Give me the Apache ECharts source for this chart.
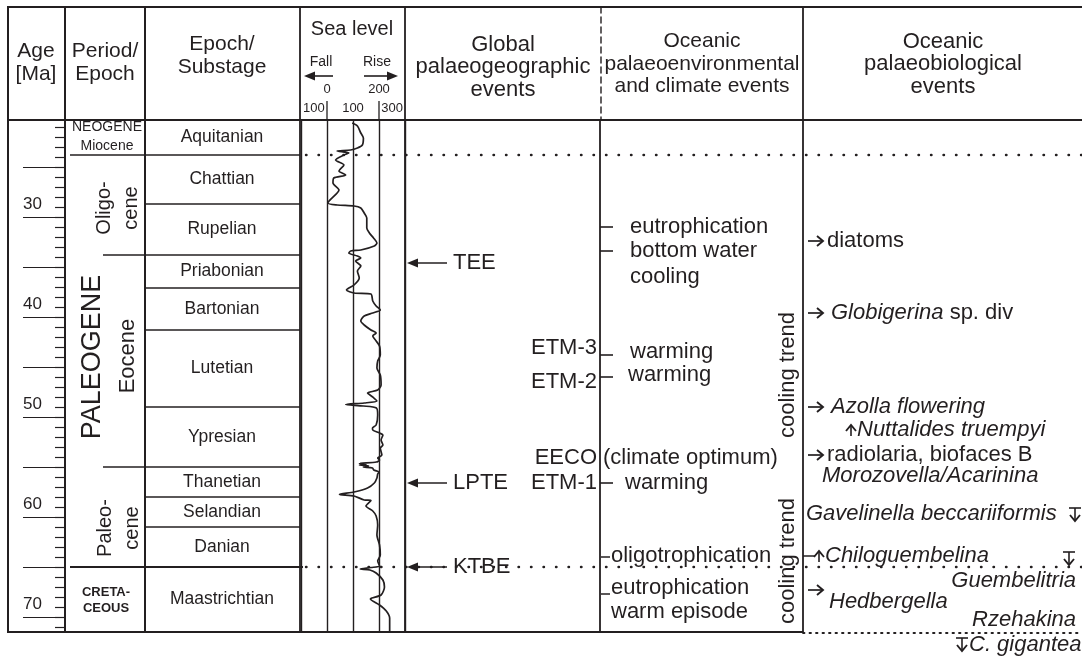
<!DOCTYPE html>
<html><head><meta charset="utf-8">
<script src="https://cdn.jsdelivr.net/npm/echarts@6/dist/echarts.min.js"></script>
<style>html,body{margin:0;padding:0;background:#fff}#c{width:1082px;height:660px}</style>
</head><body><div id="c"></div>
<script>
// ---------- data ----------
const ageMin = 20.3, ageMax = 71.5;
const ageMajorTicks = [25, 30, 35, 40, 45, 50, 55, 60, 65, 70];
const ageTickLabels = [30, 40, 50, 60, 70];
const ageMinorTicks = [21,22,23,24,25,26,27,28,29,30,31,32,33,34,35,36,37,38,39,40,41,42,43,44,45,46,47,48,49,50,51,52,53,54,55,56,57,58,59,60,61,62,63,64,65,66,67,68,69,70,71];

const stageNames = ['Aquitanian','Chattian','Rupelian','Priabonian','Bartonian','Lutetian','Ypresian','Thanetian','Selandian','Danian','Maastrichtian'];
const stageBase  = [23.8, 28.7, 33.8, 37.1, 41.3, 49.0, 55.0, 58.0, 61.0, 65.0, 71.5];
const periodBounds = [23.8, 65.0];   // Neogene/Paleogene, Paleogene/Cretaceous
const epochBounds  = [33.8, 55.0];   // Oligocene/Eocene, Eocene/Paleocene

const seaLevelTicks = [-100, 0, 100, 200, 300];
const seaLevelTickLabels = ['100', '0', '100', '200', '300'];

const slAge = [20.6,20.9,21.6,22.1,22.8,23.1,23.3,23.4,23.6,23.8,24.3,24.8,25.4,25.8,26.1,26.6,27.3,27.6,28.6,28.8,28.9,29.1,29.6,30.1,31.1,31.6,32.1,32.6,32.9,33.3,33.4,33.6,33.9,34.1,34.4,34.9,35.4,36.1,36.8,37.3,37.6,37.7,38.4,38.9,39.3,39.6,39.9,40.4,40.8,41.3,41.6,41.9,42.4,42.9,43.8,44.4,45.1,45.8,46.8,47.3,47.6,48.0,48.4,48.6,48.75,48.9,49.1,49.8,50.8,51.1,51.3,51.6,51.8,52.3,52.8,53.1,53.8,54.1,54.3,54.5,54.65,54.75,54.8,54.9,55.0,55.1,55.3,55.5,55.7,56.1,56.6,57.1,57.5,57.75,57.9,58.3,58.35,58.9,59.4,59.9,60.8,61.8,62.8,63.8,64.4,64.9,65.05,65.2,65.3,65.6,66.3,67.0,67.8,68.2,68.8,69.4,70.1,71.5];
const slValue = [97,117,130,140,136,117,91,39,84,65,33,65,46,72,26,23,46,39,3,39,104,130,143,153,153,163,179,192,182,130,91,84,117,130,110,130,117,124,104,75,104,169,176,189,205,176,143,130,143,169,189,176,189,202,205,195,192,205,208,195,156,176,192,143,72,140,190,195,189,175,176,202,215,208,215,205,211,195,202,190,125,150,125,160,140,175,180,200,195,192,182,156,104,48,104,143,169,150,176,189,195,192,202,205,195,202,169,128,165,189,215,221,208,167,202,228,241,241];

const globalEventNames = ['TEE', 'LPTE', 'KTBE'];
const globalEventAges  = [34.6, 56.6, 65.0];
const thermalNames = ['ETM-3', 'ETM-2', 'EECO', 'ETM-1'];
const thermalAges  = [43.1, 46.5, 54.1, 56.6];
const envTickAges  = [31.0, 33.4, 43.8, 46.0, 56.6];
const envTexts = ['eutrophication', 'bottom water', 'cooling', 'warming', 'warming', '(climate optimum)', 'warming'];
const envTextAges = [31.0, 33.4, 36.0, 43.5, 45.8, 54.1, 56.6];
const envTextX    = [630, 630, 630, 630, 628, 603, 625];
const kTexts = ['oligotrophication', 'eutrophication', 'warm episode'];
const kTextAges = [63.9, 67.1, 69.5];
const coolingTrendAges = [45.8, 64.4];

// ---------- chart ----------
const FF = '"Liberation Sans", Arial, Helvetica, sans-serif';
const INK = '#231f20';
const FS = 22;   // main text size
const chart = echarts.init(document.getElementById('c'), null, {renderer: 'canvas'});

chart.setOption({
  animation: false,
  grid: [
    {left: 65, top: 120, width: 80, height: 512, show: false},
    {left: 301, top: 120, width: 104, height: 512, show: false}
  ],
  xAxis: [
    {gridIndex: 0, type: 'value', show: false, min: 0, max: 1},
    {gridIndex: 1, type: 'value', min: -100, max: 300, interval: 100,
     axisLine: {show: false}, axisTick: {show: false}, axisLabel: {show: false},
     splitLine: {show: true, lineStyle: {color: INK, width: 1.4}}}
  ],
  yAxis: [
    {gridIndex: 0, type: 'value', inverse: true, min: ageMin, max: ageMax, position: 'left',
     axisLine: {show: false}, splitLine: {show: false},
     axisTick: {show: true, length: 10, customValues: ageMinorTicks, lineStyle: {color: INK, width: 1.2}},
     axisLabel: {show: false}},
    {gridIndex: 0, type: 'value', inverse: true, min: ageMin, max: ageMax, position: 'left',
     axisLine: {show: false}, splitLine: {show: false},
     axisTick: {show: true, length: 42, customValues: ageMajorTicks, lineStyle: {color: INK, width: 1.2}},
     axisLabel: {show: true, customValues: ageTickLabels, align: 'left', margin: 42, verticalAlign: 'bottom',
                 padding: [0, 0, 4, 0], fontSize: 17, fontFamily: FF, color: INK}},
    {gridIndex: 1, type: 'value', inverse: true, min: ageMin, max: ageMax, show: false}
  ],
  series: [{
    type: 'line', xAxisIndex: 1, yAxisIndex: 2,
    data: slValue.map((v, i) => [v, slAge[i]]),
    showSymbol: false, smooth: 0.25, clip: false,
    lineStyle: {color: INK, width: 1.7}
  }]
});

const Y = a => chart.convertToPixel({yAxisIndex: 2}, a);
const X = v => chart.convertToPixel({xAxisIndex: 1}, v);

const G = [];
function L(x1, y1, x2, y2, w, dash) {
  G.push({type: 'line', silent: true, z: 5, shape: {x1, y1, x2, y2},
    style: {stroke: INK, lineWidth: w || 1.4, lineDash: dash || null, lineCap: dash ? 'round' : 'butt'}});
}
function T(text, x, y, o) {
  o = o || {};
  const size = o.size || FS;
  const font = (o.italic ? 'italic ' : '') + (o.bold ? 'bold ' : '') + size + 'px ' + FF;
  const st = {text, x: 0, y: 0, fill: INK, font,
    textAlign: o.align || 'left', align: o.align || 'left',
    textVerticalAlign: o.va || 'middle', verticalAlign: o.va || 'middle'};
  if (o.lh) st.lineHeight = o.lh;
  if (o.rich) st.rich = o.rich;
  G.push({type: 'text', silent: true, z: 10, x, y, rotation: o.rot || 0, style: st});
}
function R(size) {
  return {
    n: {fontSize: size, fontFamily: FF, fill: INK, color: INK},
    i: {fontSize: size, fontFamily: FF, fontStyle: 'italic', fill: INK, color: INK}
  };
}
function arrowLeft(xTip, xEnd, y) {
  L(xTip + 6, y, xEnd, y, 1.6);
  G.push({type: 'polygon', silent: true, z: 6, shape: {points: [[xTip, y], [xTip + 11, y - 4.5], [xTip + 11, y + 4.5]]}, style: {fill: INK}});
}
function arrowRight(xStart, xTip, y) {
  L(xStart, y, xTip - 6, y, 1.6);
  G.push({type: 'polygon', silent: true, z: 6, shape: {points: [[xTip, y], [xTip - 11, y - 4.5], [xTip - 11, y + 4.5]]}, style: {fill: INK}});
}
function chevRight(xStart, xTip, y) {
  L(xStart, y, xTip - 1, y, 1.7);
  G.push({type: 'polyline', silent: true, z: 6, shape: {points: [[xTip - 6, y - 5], [xTip, y], [xTip - 6, y + 5]]}, style: {stroke: INK, lineWidth: 1.9, fill: null}});
}
function downBar(x, yTop) {
  L(x - 6, yTop, x + 6, yTop, 1.6);
  L(x, yTop, x, yTop + 13, 1.6);
  G.push({type: 'polyline', silent: true, z: 6, shape: {points: [[x - 5, yTop + 7], [x, yTop + 13], [x + 5, yTop + 7]]}, style: {stroke: INK, lineWidth: 1.9, fill: null}});
}
function upArrow(x, yBottom) {
  L(x, yBottom, x, yBottom - 11, 1.6);
  G.push({type: 'polyline', silent: true, z: 6, shape: {points: [[x - 5, yBottom - 5], [x, yBottom - 11], [x + 5, yBottom - 5]]}, style: {stroke: INK, lineWidth: 1.9, fill: null}});
}

const yTop = 7, yHead = Y(ageMin), yBot = Y(ageMax);
// table frame
L(7, yTop, 1082, yTop, 2);
L(7, yHead, 1082, yHead, 2);
L(8, yTop, 8, yBot + 1, 2);
L(7, yBot, 803, yBot, 2);
L(803, yBot + 1, 1082, yBot + 1, 1.8, [1.5, 5]);
[65, 145, 300, X(300), 803].forEach(x => L(x, yTop, x, yBot, x === 65 || x === 145 ? 2 : 1.8));
L(601, yTop, 601, yHead, 1.4, [6, 4]);
L(600, yHead, 600, yBot, 1.8);

// stage boundaries
stageBase.slice(0, -1).forEach(a => L(145, Y(a), 300, Y(a), 1.5));
L(70, Y(periodBounds[0]), 145, Y(periodBounds[0]), 1.3);
L(70, Y(periodBounds[1]), 303, Y(periodBounds[1]), 2);
epochBounds.forEach(a => L(103, Y(a), 145, Y(a), 1.6));
// stage names
stageNames.forEach((n, i) => {
  const top = i === 0 ? ageMin : stageBase[i - 1];
  T(n, 222, (Y(top) + Y(stageBase[i])) / 2, {align: 'center', size: 17.5});
});
// dotted boundary lines
L(306, Y(periodBounds[0]), 1082, Y(periodBounds[0]), 2.4, [0.5, 12]);
L(306, Y(periodBounds[1]), 1082, Y(periodBounds[1]), 2.4, [0.5, 12]);

// period / epoch column
T('NEOGENE', 107, 127, {align: 'center', size: 14});
T('Miocene', 107, 146, {align: 'center', size: 14});
T('Oligo-\ncene', 118, (Y(periodBounds[0]) + Y(epochBounds[0])) / 2 + 3, {align: 'center', size: 20, lh: 27, rot: Math.PI / 2});
T('PALEOGENE', 93, Y(44.0), {align: 'center', size: 27, rot: Math.PI / 2});
T('Eocene', 128, Y(43.9), {align: 'center', size: 22, rot: Math.PI / 2});
T('Paleo-\ncene', 119, Y(61.1), {align: 'center', size: 20, lh: 27, rot: Math.PI / 2});
T('CRETA-', 106, 592, {align: 'center', size: 13, bold: true});
T('CEOUS', 106, 608, {align: 'center', size: 13, bold: true});

// header
T('Age\n[Ma]', 36, 63, {align: 'center', size: 21, lh: 23});
T('Period/\nEpoch', 105, 63, {align: 'center', size: 21, lh: 23});
T('Epoch/\nSubstage', 222, 56, {align: 'center', size: 21, lh: 23});
T('Sea level', 352, 29, {align: 'center', size: 20});
T('Fall', 321, 62, {align: 'center', size: 14});
T('Rise', 377, 62, {align: 'center', size: 14});
arrowLeft(304, 333, 76);
arrowRight(364, 398, 76);
seaLevelTicks.forEach((v, i) => {
  const up = i % 2 === 1;
  let x = X(v), al = 'center';
  if (i === 0) { x = X(v) + 2; al = 'left'; }
  if (i === seaLevelTicks.length - 1) { x = X(v) - 2; al = 'right'; }
  T(seaLevelTickLabels[i], x, up ? 89 : 108, {align: al, size: 13});
  if (up) L(X(v), 101, X(v), yHead, 1.3);
});
T('Global\npalaeogeographic\nevents', 503, 67, {align: 'center', size: 22, lh: 22.5});
T('Oceanic\npalaeoenvironmental\nand climate events', 702, 64, {align: 'center', size: 21, lh: 22.5});
T('Oceanic\npalaeobiological\nevents', 943, 64, {align: 'center', size: 22, lh: 22.5});

// global palaeogeographic events
globalEventNames.forEach((n, i) => {
  const y = Y(globalEventAges[i]);
  arrowLeft(407, 447, y);
  T(n, 453, y);
});
thermalNames.forEach((n, i) => T(n, 597, Y(thermalAges[i]), {align: 'right'}));

// palaeoenvironmental events
envTickAges.forEach(a => L(600, Y(a), 613, Y(a), 1.6));
envTexts.forEach((t, i) => T(t, envTextX[i], Y(envTextAges[i])));
L(601, Y(kTextAges[0]) + 1, 610, Y(kTextAges[0]) + 1, 1.5);
L(601, Y(kTextAges[1]) + 6, 610, Y(kTextAges[1]) + 6, 1.5);
kTexts.forEach((t, i) => T(t, 611, Y(kTextAges[i])));
coolingTrendAges.forEach(a => T('cooling trend', 788, Y(a), {align: 'center', size: 22, rot: Math.PI / 2}));

// palaeobiological events
const r = R(FS);
chevRight(808, 823, Y(32.4));
T('diatoms', 827, Y(32.4));
chevRight(808, 823, Y(39.6));
T('{i|Globigerina}{n| sp. div}', 831, Y(39.6), {rich: r});
chevRight(808, 823, Y(49.0));
T('{i|Azolla flowering}', 831, Y(49.0), {rich: r});
upArrow(851, Y(51.3) + 6);
T('{i|Nuttalides truempyi}', 857, Y(51.3), {rich: r});
chevRight(808, 823, Y(53.8));
T('radiolaria, biofaces B', 827, Y(53.8));
T('{i|Morozovella/Acarinina}', 822, Y(55.9), {rich: r});
T('{i|Gavelinella beccariiformis}', 806, Y(59.7), {rich: r});
downBar(1075, Y(59.7) - 6);
L(803, Y(63.9), 815, Y(63.9), 1.5);
upArrow(819, Y(63.9) + 6);
T('{i|Chiloguembelina}', 825, Y(63.9), {rich: r});
downBar(1069, Y(63.9) - 4);
T('{i|Guembelitria}', 1076, Y(66.4), {align: 'right', rich: r});
chevRight(808, 823, Y(67.3));
T('{i|Hedbergella}', 829, Y(68.5), {rich: r});
T('{i|Rzehakina}', 1076, Y(70.3), {align: 'right', rich: r});
downBar(962, Y(72.8) - 7);
T('{i|C. gigantea}', 969, Y(72.8), {rich: r});

chart.setOption({graphic: {elements: G}});
</script></body></html>
